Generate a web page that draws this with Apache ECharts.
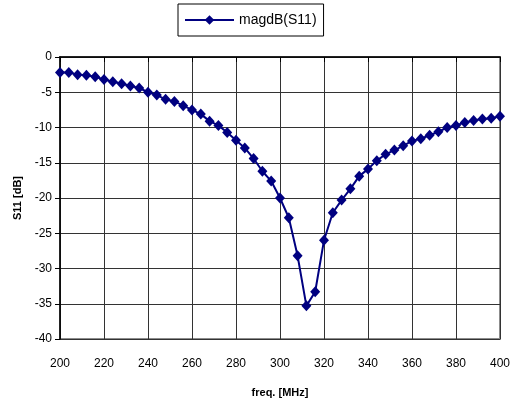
<!DOCTYPE html>
<html>
<head>
<meta charset="utf-8">
<script src="https://cdn.jsdelivr.net/npm/echarts@6/dist/echarts.min.js"></script>
<style>
	html,body{margin:0;padding:0;background:#fff;}
	#mainChart{width:513px;height:408px;}
</style>
</head>
<body>
<div id="mainChart"></div>
<script>
	// frequency points, MHz (every 4 MHz)
	var freq = [];
	for (var f = 200; f <= 400; f += 4) freq.push(f);
	// magdB(S11)
	var s11 = [
		-2.2, -2.2, -2.5, -2.6, -2.8, -3.2, -3.5, -3.8, -4.1, -4.4,
		-5.0, -5.4, -6.0, -6.3, -6.9, -7.5, -8.1, -9.1, -9.7, -10.7,
		-11.8, -12.9, -14.4, -16.2, -17.6, -20.0, -22.8, -28.2, -35.3, -33.3,
		-26.0, -22.1, -20.3, -18.7, -16.9, -15.9, -14.7, -13.8, -13.2, -12.6,
		-11.9, -11.6, -11.1, -10.6, -10.0, -9.7, -9.3, -9.0, -8.8, -8.7,
		-8.4
	];
	var xTicks = [200, 220, 240, 260, 280, 300, 320, 340, 360, 380, 400];
	var yTicks = [0, -5, -10, -15, -20, -25, -30, -35, -40];

	var font = 'Liberation Sans, Arial, sans-serif';
	var chart = echarts.init(document.getElementById('mainChart'));
	chart.setOption({
		animation: false,
		legend: {
			top: 4,
			left: 178,
			padding: [9, 7, 9, 6],
			borderColor: '#000',
			borderWidth: 1,
			itemWidth: 49,
			itemHeight: 12,
			itemGap: 4,
			textStyle: { fontFamily: font, fontSize: 14, color: '#000', padding: [0, 0, 0, 0] },
			data: ['magdB(S11)']
		},
		grid: {
			left: 60,
			right: 13,
			top: 57,
			bottom: 69,
			show: true,
			borderColor: '#8c8c8c',
			borderWidth: 2
		},
		xAxis: {
			type: 'value',
			min: xTicks[0],
			max: xTicks[xTicks.length - 1],
			interval: 20,
			name: 'freq. [MHz]',
			nameLocation: 'middle',
			nameGap: 48,
			nameTextStyle: { fontFamily: font, fontSize: 11, fontWeight: 'bold', color: '#000' },
			axisLine: { lineStyle: { color: '#000', width: 1.5 } },
			axisTick: { show: true, inside: false, length: 5, lineStyle: { color: '#000' } },
			axisLabel: { fontFamily: font, fontSize: 12, color: '#000', margin: 19 },
			splitLine: { show: true, lineStyle: { color: '#333', width: 1 } }
		},
		yAxis: {
			type: 'value',
			min: yTicks[yTicks.length - 1],
			max: yTicks[0],
			interval: 5,
			name: 'S11 [dB]',
			nameLocation: 'middle',
			nameGap: 37,
			nameTextStyle: { fontFamily: font, fontSize: 11, fontWeight: 'bold', color: '#000' },
			axisLine: { show: true, lineStyle: { color: '#000', width: 1.5 } },
			axisTick: { show: true, inside: false, length: 5, lineStyle: { color: '#000' } },
			axisLabel: { fontFamily: font, fontSize: 12, color: '#000', margin: 8 },
			splitLine: { show: true, lineStyle: { color: '#333', width: 1 } }
		},
		series: [{
			name: 'magdB(S11)',
			type: 'line',
			data: freq.map(function (f, i) { return [f, s11[i]]; }),
			symbol: 'diamond',
			symbolSize: [10, 11],
			showAllSymbol: true,
			color: '#000080',
			lineStyle: { color: '#000080', width: 2 },
			itemStyle: { color: '#000080' }
		}]
	});
</script>
</body>
</html>
